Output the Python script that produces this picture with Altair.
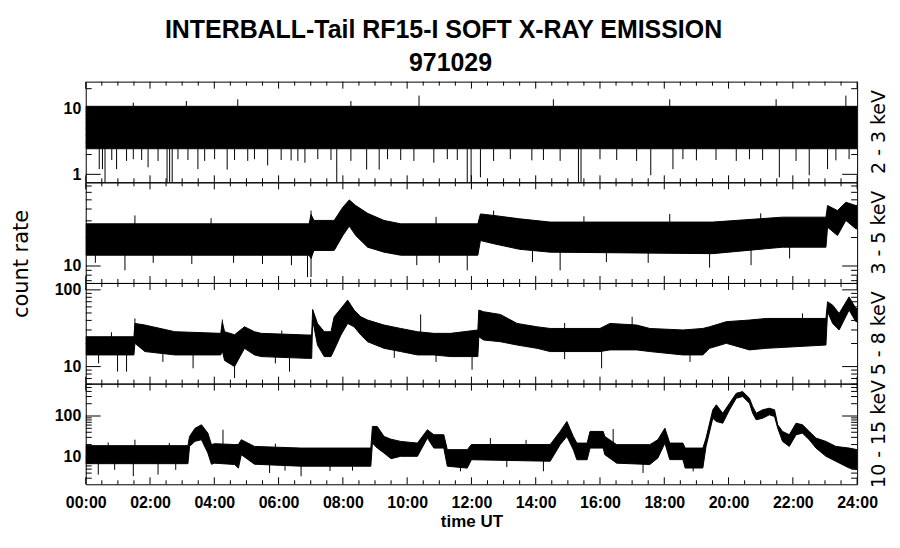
import numpy as np
import pandas as pd
import altair as alt

W, H = 774, 101
FB = "Liberation Sans"
FR = "DejaVu Sans"

# ---------------- data (hours UT, count rate) ----------------
# Panel 1: 2 - 3 keV
p1_h = [0.0, 24.0]
p1_lo = [2.45, 2.45]
p1_hi = [10.8, 10.8]
p1_dn_h = [0.42, 0.52, 0.60, 0.96, 1.94, 2.53, 2.61, 2.69, 3.49, 4.40, 5.66, 6.39, 6.82, 7.81,
           8.74, 9.13, 10.83, 11.87, 11.99, 12.28, 13.88, 15.33, 15.41, 17.58, 18.27, 19.0,
           21.58, 22.51, 23.08, 23.34,
           0.81, 1.27, 1.48, 1.74, 2.25, 2.87, 3.18, 3.70, 4.01, 4.63, 5.04, 5.25, 6.08, 6.60,
           7.22, 7.63, 8.25, 9.39, 9.80, 10.21, 11.25, 11.56, 12.69, 13.21, 14.24, 14.76, 16.0,
           16.52, 17.14, 18.58, 19.61, 20.24, 20.65, 21.06, 22.1, 23.75]
p1_dn_v = [1.2, 1.2, 0.76, 1.2, 1.28, 0.76, 0.76, 0.76, 1.2, 1.18, 1.37, 1.63, 1.5, 0.76,
           1.18, 1.18, 1.5, 0.76, 0.76, 0.9, 1.63, 0.76, 0.76, 0.97, 1.2, 1.63,
           0.9, 0.97, 1.2, 1.63,
           1.65, 1.6, 1.7, 1.65, 1.6, 1.7, 1.65, 1.6, 1.7, 1.65, 1.6, 1.7, 1.65, 1.6,
           1.7, 1.65, 1.6, 1.7, 1.65, 1.6, 1.7, 1.65, 1.6, 1.7, 1.65, 1.6, 1.7,
           1.65, 1.6, 1.7, 1.65, 1.6, 1.7, 1.65, 1.6, 1.7]
p1_up_h = [1.48, 3.13, 4.73, 8.25, 10.37, 14.55, 18.17, 21.48, 23.65]
p1_up_v = [12.3, 13.0, 13.8, 13.0, 15.7, 13.8, 13.8, 13.8, 15.7]

# Panel 2: 3 - 5 keV
p2_h = [0.0, 6.95, 7.01, 7.10, 7.68, 7.73, 8.00, 8.20, 8.40, 8.77, 9.28, 9.80, 12.20, 12.28,
        12.69, 13.5, 14.45, 19.5, 21.68, 23.03, 23.08, 23.39, 23.65, 23.96, 24.0]
p2_lo = [13.0, 13.0, 12.0, 14.6, 14.6, 14.6, 21.0, 26.4, 21.0, 15.8, 14.0, 13.0, 13.0, 18.6,
         17.2, 15.0, 14.0, 13.5, 15.8, 15.8, 25.7, 21.0, 30.3, 24.7, 24.7]
p2_hi = [27.9, 27.9, 35.0, 30.3, 30.3, 30.3, 41.8, 49.9, 43.5, 36.0, 30.3, 27.9, 27.9, 35.5,
         34.2, 31.5, 29.1, 29.1, 32.8, 32.8, 43.5, 38.5, 47.2, 43.5, 43.5]
p2_dn_h = [0.3, 1.22, 2.1, 3.3, 4.6, 5.5, 6.4, 6.90, 7.01, 10.3, 11.0, 11.87, 13.9, 14.76,
           16.2, 17.5, 19.41, 20.7, 21.9]
p2_dn_v = [10.8, 9.0, 10.8, 10.5, 10.8, 10.5, 10.2, 7.65, 7.65, 10.2, 10.8, 9.0, 11.0, 9.0,
           11.0, 10.8, 9.6, 10.2, 12.0]
p2_up_h = [1.53, 3.9, 7.01, 10.9, 12.69, 15.5, 18.17, 21.0]
p2_up_v = [34.2, 32.0, 38.5, 33.0, 38.5, 33.5, 35.5, 36.0]

# Panel 3: 5 - 8 keV
p3_h = [0.0, 1.50, 1.53, 1.84, 2.77, 4.20, 4.25, 4.32, 4.63, 4.94, 5.25, 5.46, 6.90, 7.03,
        7.06, 7.21, 7.42, 7.63, 7.73, 7.94, 8.15, 8.35, 8.56, 8.77, 9.28, 9.80, 10.32, 10.83,
        11.35, 12.20, 12.23, 12.38, 12.90, 13.42, 14.04, 14.45, 16.0, 16.31, 17.14, 17.55,
        18.58, 19.20, 19.41, 19.93, 20.65, 21.17, 23.03, 23.08, 23.24, 23.44, 23.75, 23.96, 24.0]
p3_lo = [14.2, 14.2, 20.1, 15.7, 14.2, 14.2, 16.0, 12.0, 10.0, 17.3, 14.2, 13.5, 12.8, 12.8,
         40.4, 19.1, 13.5, 13.5, 16.5, 25.8, 36.5, 33.0, 25.8, 21.1, 17.3, 15.7, 14.2, 14.2,
         13.5, 13.5, 24.5, 22.2, 21.1, 19.1, 17.3, 15.7, 15.7, 16.5, 16.5, 15.7,
         14.2, 14.2, 17.3, 20.1, 16.5, 17.3, 19.1, 51.8, 36.5, 30.0, 54.5, 38.5, 38.5]
p3_hi = [24.5, 24.5, 36.5, 34.8, 28.5, 27.1, 38.0, 28.5, 26.0, 33.0, 28.5, 27.1, 25.8, 25.8,
         55.5, 36.5, 28.5, 28.5, 44.6, 57.2, 73.5, 54.5, 44.6, 40.4, 34.8, 31.4, 28.5, 27.1,
         27.1, 30.0, 54.5, 51.8, 47.8, 36.5, 33.0, 31.4, 31.4, 36.5, 34.8, 31.4,
         30.0, 31.4, 33.0, 38.5, 40.4, 42.4, 42.4, 69.9, 63.2, 49.3, 81.0, 57.2, 57.2]
p3_dn_h = [0.4, 0.99, 1.27, 2.4, 3.34, 4.63, 5.9, 6.34, 9.6, 10.9, 12.02, 14.9, 16.05, 18.8]
p3_dn_v = [11.0, 8.6, 8.6, 11.5, 9.5, 7.1, 11.0, 8.6, 13.0, 11.5, 9.1, 12.5, 9.5, 11.5]
p3_up_h = [0.8, 1.53, 4.25, 6.1, 10.42, 14.9, 17.0, 22.3]
p3_up_v = [28.0, 42.4, 41.0, 29.5, 47.8, 37.0, 44.6, 49.3]

# Panel 4: 10 - 15 keV
p4_h = [0.0, 3.18, 3.23, 3.40, 3.60, 3.80, 3.91, 4.01, 4.63, 4.75, 4.84, 5.25, 6.70, 8.87,
        8.92, 9.07, 9.28, 9.50, 9.80, 10.32, 10.63, 10.83, 11.14, 11.25, 11.87, 12.0, 14.45,
        14.76, 14.97, 15.17, 15.28, 15.60, 15.69, 16.10, 16.15, 16.52, 17.55, 17.80, 18.02,
        18.17, 18.58, 18.65, 19.20, 19.30, 19.51, 19.62, 19.82, 20.03, 20.24, 20.44, 20.65,
        20.75, 20.86, 21.06, 21.27, 21.43, 21.53, 21.68, 21.89, 22.10, 22.30, 22.51, 22.72,
        23.03, 23.34, 23.75, 24.0]
p4_lo = [6.8, 6.8, 18.0, 24.0, 26.3, 12.4, 6.6, 7.0, 6.5, 5.3, 11.3, 6.6, 5.9, 5.9,
         21.7, 16.4, 12.4, 9.0, 10.3, 10.3, 28.8, 16.4, 16.4, 5.9, 5.3, 8.5, 7.8,
         19.9, 31.6, 15.0, 8.5, 8.5, 16.4, 16.4, 11.3, 7.0, 6.5, 9.35, 21.7,
         8.55, 8.55, 5.33, 5.33, 18.0, 88, 73.4, 66.7, 142, 272, 300, 205,
         117, 81, 88, 107, 97, 50.4, 23.9, 18.0, 34.8, 38.0, 26.3, 16.4,
         10.3, 7.77, 5.33, 4.87]
p4_hi = [18.8, 18.8, 31.6, 50.0, 61, 38, 20, 21, 20, 20, 26.3, 18, 16.4, 16.4,
         55.5, 55.5, 31.6, 27, 23.9, 21.7, 46, 34.8, 34.8, 15, 15, 20, 20,
         41.9, 73.4, 31.6, 21.7, 21.7, 41.9, 41.9, 31.6, 19.9, 19.9, 26.3, 50.4,
         21.7, 21.7, 16.4, 16.4, 28.8, 142, 188, 117, 205, 360, 396, 272,
         171, 117, 142, 155, 142, 61, 41.9, 34.8, 66.7, 61, 41.9, 28.8,
         23.9, 18, 16.4, 15]
p4_dn_h = [0.39, 0.9, 1.48, 2.25, 2.8, 5.72, 6.2, 6.70, 7.6, 8.3, 11.66, 13.1, 14.24, 17.34, 18.9]
p4_dn_v = [3.68, 4.8, 3.35, 3.68, 4.8, 4.03, 4.6, 3.35, 4.5, 4.6, 4.43, 5.6, 4.43, 4.03, 4.4]
p4_up_h = [0.7, 1.53, 2.6, 4.27, 5.9, 12.59, 13.7, 16.41]
p4_up_v = [22.5, 26.3, 22.0, 46.0, 21.0, 28.8, 26.0, 48.0]

# axis ticks
x_major = [0, 2, 4, 6, 8, 10, 12, 14, 16, 18, 20, 22, 24]
x_minor = [k / 2 for k in range(49) if k % 4]
panel_labels = ["2 - 3 keV", "3 - 5 keV", "5 - 8 keV", "10 - 15 keV"]
domains = [[0.757, 25.6], [6.62, 76.6], [6.0, 123.0], [2.13, 621.0]]
label_vals = [[1, 10], [10], [10, 100], [10, 100]]
y_major = [[1, 10], [10], [10, 100], [10, 100]]
y_minor = [[2, 3, 4, 5, 6, 7, 8, 9, 20],
           [7, 8, 9, 20, 30, 40, 50, 60, 70],
           [7, 8, 9, 20, 30, 40, 50, 60, 70, 80, 90],
           [3, 4, 5, 6, 7, 8, 9, 20, 30, 40, 50, 60, 70, 80, 90, 200, 300, 400, 500, 600]]

xs = alt.Scale(domain=[0, 24], nice=False, zero=False)


def spikes(h, lo, hi, sh, sv):
    lh = np.log10(lo)
    hh = np.log10(hi)
    t = np.array(sh)
    mid = 10 ** ((np.interp(t, h, lh) + np.interp(t, h, hh)) / 2)
    return pd.DataFrame({"h": sh, "v": sv, "m": mid})


def panel(i, h, lo, hi, dn_h, dn_v, up_h, up_v, bottom=False, top=False, left_text=False):
    ys = alt.Scale(type="log", domain=domains[i], nice=False)
    if bottom:
        xaxis = alt.Axis(values=x_major, labelExpr="(datum.value < 10 ? '0' : '') + datum.value + ':00'",
                         ticks=False, tickSize=0, domain=False, grid=False, labelFlush=False,
                         labelOverlap=False, labelFont=FB, labelFontSize=16, labelFontWeight="bold",
                         labelPadding=10, labelColor="black", title="time UT", titleFont=FB,
                         titleFontSize=17, titleFontWeight="bold", titleColor="black", titlePadding=3)
    else:
        xaxis = None
    yaxis = alt.Axis(values=label_vals[i], format="d", ticks=False, tickSize=0, domain=False, grid=False,
                     labelOverlap=False, labelFont=FB, labelFontSize=16, labelFontWeight="bold",
                     labelPadding=5, labelColor="black", title=None)

    layers = []
    env = pd.DataFrame({"h": h, "lo": lo, "hi": hi})
    layers.append(alt.Chart(env).mark_area(color="black", stroke="black", strokeWidth=1, clip=True).encode(
        x=alt.X("h:Q", scale=xs, axis=xaxis), y=alt.Y("lo:Q", scale=ys, axis=yaxis), y2="hi:Q"))

    sp = pd.concat([spikes(h, lo, hi, dn_h, dn_v), spikes(h, lo, hi, up_h, up_v)])
    layers.append(alt.Chart(sp).mark_rule(color="black", strokeWidth=1, clip=True).encode(
        x=alt.X("h:Q", scale=xs, axis=xaxis), y=alt.Y("v:Q", scale=ys, axis=yaxis), y2="m:Q"))

    def xr(vals, y0, y1):
        return alt.Chart(pd.DataFrame({"h": vals})).mark_rule(color="black", strokeWidth=1).encode(
            x=alt.X("h:Q", scale=xs, axis=xaxis), y=alt.value(y0), y2=alt.value(y1))

    def yr(vals, x0, x1):
        return alt.Chart(pd.DataFrame({"lo": vals})).mark_rule(color="black", strokeWidth=1).encode(
            y=alt.Y("lo:Q", scale=ys, axis=yaxis), x=alt.value(x0), x2=alt.value(x1))

    layers += [xr(x_major, 0, 7), xr(x_minor, 0, 4), xr(x_major, H, H - 7), xr(x_minor, H, H - 4)]
    layers += [yr(y_major[i], 0, 15), yr(y_minor[i], 0, 6), yr(y_major[i], W, W - 15), yr(y_minor[i], W, W - 6)]

    layers.append(alt.Chart(pd.DataFrame({"t": [panel_labels[i]]})).mark_text(
        angle=270, font=FR, fontSize=19, align="center", baseline="middle", color="black").encode(
        text="t:N", x=alt.value(W + 22), y=alt.value(H / 2)))

    if left_text:
        layers.append(alt.Chart(pd.DataFrame({"t": ["count rate"]})).mark_text(
            angle=270, font=FR, fontSize=21, align="center", baseline="middle", color="black").encode(
            text="t:N", x=alt.value(-64), y=alt.value(82)))
    if top:
        layers.append(alt.Chart(pd.DataFrame({"t": ["INTERBALL-Tail RF15-I SOFT X-RAY EMISSION"]})).mark_text(
            font=FB, fontSize=25, fontWeight="bold", align="center", baseline="middle", color="black").encode(
            text="t:N", x=alt.value(359), y=alt.value(-52)))
        layers.append(alt.Chart(pd.DataFrame({"t": ["971029"]})).mark_text(
            font=FB, fontSize=25, fontWeight="bold", align="center", baseline="middle", color="black").encode(
            text="t:N", x=alt.value(366), y=alt.value(-19)))

    return alt.layer(*layers).properties(width=W, height=H)


c1 = panel(0, p1_h, p1_lo, p1_hi, p1_dn_h, p1_dn_v, p1_up_h, p1_up_v, top=True)
c2 = panel(1, p2_h, p2_lo, p2_hi, p2_dn_h, p2_dn_v, p2_up_h, p2_up_v, left_text=True)
c3 = panel(2, p3_h, p3_lo, p3_hi, p3_dn_h, p3_dn_v, p3_up_h, p3_up_v)
c4 = panel(3, p4_h, p4_lo, p4_hi, p4_dn_h, p4_dn_v, p4_up_h, p4_up_v, bottom=True)

chart = alt.vconcat(c1, c2, c3, c4, spacing=0, bounds="flush").properties(
    padding={"left": 2, "top": 8, "right": 2, "bottom": 2}, background="white"
).configure_view(stroke="black", strokeWidth=1)

chart.save("out.html", embed_options={"renderer": "svg", "actions": False})
